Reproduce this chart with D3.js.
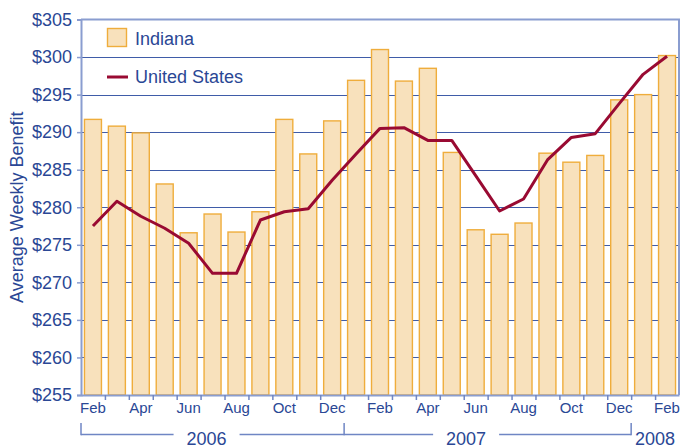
<!DOCTYPE html>
<html>
<head>
<meta charset="utf-8">
<script src="https://cdn.jsdelivr.net/npm/d3@7"></script>
<style>
  body { margin: 0; background: #fff; }
  svg text { font-family: "Liberation Sans", Arial, Helvetica, sans-serif; fill: #2a4795; }
</style>
</head>
<body>
<svg id="chart" width="682" height="446"></svg>
<script>
// months Feb 2006 .. Feb 2008
const months = ["Feb","Mar","Apr","May","Jun","Jul","Aug","Sep","Oct","Nov","Dec",
                "Jan","Feb","Mar","Apr","May","Jun","Jul","Aug","Sep","Oct","Nov","Dec",
                "Jan","Feb"];
const indiana = [291.7, 290.8, 289.9, 283.1, 276.6, 279.1, 276.7, 279.4, 291.7, 287.1, 291.5,
                 296.9, 301.0, 296.8, 298.5, 287.3, 277.0, 276.4, 277.9, 287.2, 286.0, 286.9, 294.3,
                 295.0, 300.2];
const unitedStates = [277.5, 280.8, 278.8, 277.2, 275.2, 271.2, 271.2, 278.3, 279.4, 279.8, 283.6,
                      287.1, 290.5, 290.6, 288.9, 288.9, 284.2, 279.5, 281.1, 286.3, 289.3, 289.8, 293.8,
                      297.7, 300.1];
const yTicks = [255, 260, 265, 270, 275, 280, 285, 290, 295, 300, 305];
const years = [{label: "2006", at: 5.25}, {label: "2007", at: 16.1}, {label: "2008", at: 24}];
const yearBreaks = [0, 11, 23];

const svg = d3.select("#chart");
const plotLeft = 81, plotRight = 679, plotTop = 19.5, plotBottom = 395;

const x = d3.scaleBand()
    .domain(months.map((d, i) => i))
    .range([plotLeft, plotRight])
    .paddingInner(0.29)
    .paddingOuter(0.145);
// continuous scale for band boundaries (ticks, year bracket)
const xb = d3.scaleLinear().domain([0, months.length]).range([plotLeft, plotRight]);
const y = d3.scaleLinear().domain([255, 305]).range([plotBottom, plotTop]);

// grid
svg.append("g")
    .selectAll("line")
    .data(yTicks.slice(1, -1))
    .enter().append("line")
    .attr("x1", plotLeft).attr("x2", plotRight)
    .attr("y1", d => Math.round(y(d)) + 0.5).attr("y2", d => Math.round(y(d)) + 0.5)
    .attr("stroke", "#3f5ca8").attr("stroke-width", 1.2);

// bars
svg.append("g")
    .selectAll("rect")
    .data(indiana)
    .enter().append("rect")
    .attr("x", (d, i) => x(i))
    .attr("width", x.bandwidth())
    .attr("y", d => y(d))
    .attr("height", d => plotBottom - y(d))
    .attr("fill", "#f8e1bc")
    .attr("stroke", "#efad3c")
    .attr("stroke-width", 1.4);

// frame top / right
svg.append("path")
    .attr("d", `M${plotLeft},${plotTop}H${plotRight}V${plotBottom}`)
    .attr("fill", "none").attr("stroke", "#8a9dd0").attr("stroke-width", 2);

// line
const line = d3.line()
    .x((d, i) => x(i) + x.bandwidth() / 2)
    .y(d => y(d));
svg.append("path")
    .datum(unitedStates)
    .attr("d", line)
    .attr("fill", "none")
    .attr("stroke", "#990a32")
    .attr("stroke-width", 3)
    .attr("stroke-linejoin", "round");

// y axis
const yAxis = svg.append("g")
    .attr("transform", `translate(${plotLeft},0)`)
    .call(d3.axisLeft(y).tickValues(yTicks).tickFormat(d => "$" + d).tickSize(4).tickPadding(5));
yAxis.select(".domain").attr("stroke", "#8a9dd0").attr("stroke-width", 2);
yAxis.selectAll(".tick line").attr("stroke", "#8a9dd0").attr("stroke-width", 1.5);
yAxis.selectAll(".tick text").style("font-size", "18px").attr("fill", "#2a4795");

// x axis: ticks at band boundaries
const xTicks = svg.append("g")
    .attr("transform", `translate(0,${plotBottom})`)
    .call(d3.axisBottom(xb).tickValues(d3.range(1, months.length)).tickFormat("").tickSize(5).tickSizeOuter(0));
xTicks.select(".domain").attr("stroke", "#8a9dd0").attr("stroke-width", 2);
xTicks.selectAll(".tick line").attr("stroke", "#6f86c4").attr("stroke-width", 1.5);

// month labels (every other month)
const xLabels = svg.append("g")
    .attr("transform", `translate(0,${plotBottom})`)
    .call(d3.axisBottom(x).tickSize(0).tickPadding(7)
        .tickValues(months.map((d, i) => i).filter(i => i % 2 === 0))
        .tickFormat(i => months[i]));
xLabels.select(".domain").remove();
xLabels.selectAll(".tick text").style("font-size", "15px").attr("fill", "#2a4795");

// year bracket
const yearY = 434.5;
const bracket = svg.append("g");
bracket.append("line")
    .attr("x1", xb(yearBreaks[0])).attr("x2", xb(yearBreaks[2]))
    .attr("y1", yearY).attr("y2", yearY)
    .attr("stroke", "#6f86c4").attr("stroke-width", 1.5);
bracket.selectAll("line.v")
    .data(yearBreaks)
    .enter().append("line")
    .attr("class", "v")
    .attr("x1", d => xb(d)).attr("x2", d => xb(d))
    .attr("y1", 423).attr("y2", yearY + 0.75)
    .attr("stroke", "#6f86c4").attr("stroke-width", 1.5);
bracket.selectAll("rect")
    .data(years.slice(0, 2))
    .enter().append("rect")
    .attr("x", d => xb(d.at) - 33).attr("width", 66)
    .attr("y", yearY - 4).attr("height", 8)
    .attr("fill", "#fff");
bracket.selectAll("text")
    .data(years)
    .enter().append("text")
    .attr("x", d => xb(d.at))
    .attr("y", 445)
    .attr("text-anchor", "middle")
    .style("font-size", "18px")
    .text(d => d.label);

// y axis title
svg.append("text")
    .attr("transform", `translate(23,${(plotTop + plotBottom) / 2}) rotate(-90)`)
    .attr("text-anchor", "middle")
    .style("font-size", "18px")
    .text("Average Weekly Benefit");

// legend
const legend = svg.append("g");
legend.append("rect")
    .attr("x", 107.5).attr("y", 28.5).attr("width", 19).attr("height", 18)
    .attr("fill", "#f8e1bc").attr("stroke", "#efad3c").attr("stroke-width", 1.4);
legend.append("text").attr("x", 135).attr("y", 44.5).style("font-size", "18px").text("Indiana");
legend.append("line")
    .attr("x1", 107).attr("x2", 128).attr("y1", 77).attr("y2", 77)
    .attr("stroke", "#990a32").attr("stroke-width", 3);
legend.append("text").attr("x", 135).attr("y", 82.5).style("font-size", "18px").text("United States");
</script>
</body>
</html>
